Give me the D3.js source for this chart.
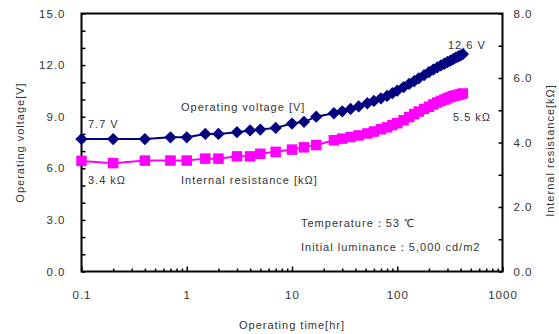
<!DOCTYPE html>
<html>
<head>
<meta charset="utf-8">
<script src="https://cdn.jsdelivr.net/npm/d3@7"></script>
<style>
  html, body { margin: 0; padding: 0; background: #fff; }
  text { font-family: "Liberation Sans", Arial, sans-serif; fill: #333; }
</style>
</head>
<body>
<svg id="chart" width="559" height="334"></svg>
<script>
// ---- data ----
const times = [0.1, 0.2, 0.4, 0.7, 1, 1.5, 2, 3, 4, 5, 7, 10, 13, 17,
  25, 30, 36, 43, 52, 60, 70, 80, 90, 100, 115, 130, 145, 160, 180, 200,
  220, 240, 260, 280, 300, 320, 340, 360, 380, 400, 420];
const voltage = [7.7, 7.7, 7.7, 7.8, 7.8, 8.0, 8.0, 8.1, 8.2, 8.25, 8.35, 8.6, 8.7, 9.0,
  9.2, 9.31, 9.45, 9.6, 9.78, 9.92, 10.07, 10.21, 10.37, 10.52, 10.72, 10.91, 11.07, 11.23, 11.42, 11.59,
  11.74, 11.87, 11.98, 12.08, 12.18, 12.26, 12.35, 12.43, 12.5, 12.57, 12.64];
const resistance = [3.43, 3.36, 3.44, 3.44, 3.44, 3.5, 3.5, 3.57, 3.57, 3.65, 3.71, 3.78, 3.85, 3.92,
  4.07, 4.12, 4.17, 4.22, 4.28, 4.34, 4.41, 4.47, 4.54, 4.6, 4.69, 4.79, 4.88, 4.96, 5.04, 5.11,
  5.18, 5.24, 5.29, 5.33, 5.37, 5.41, 5.44, 5.46, 5.48, 5.5, 5.52];
const xMajorTicks = [0.1, 1, 10, 100, 1000];
const xTickLabels = ["0.1", "1", "10", "100", "1000"];
const yLeftTicks = [0, 3, 6, 9, 12, 15];
const yRightTicks = [0, 2, 4, 6, 8];
const xTitle = "Operating time[hr]";
const yLeftTitle = "Operating voltage[V]";
const yRightTitle = "Internal resistance[kΩ]";

// ---- layout ----
const L = 81.5, R = 502.5, T = 13.5, B = 271.5;
const svg = d3.select("#chart");
const x = d3.scaleLog().domain([0.1, 1000]).range([L, R]);
const yL = d3.scaleLinear().domain([0, 15]).range([B, T]);
const yR = d3.scaleLinear().domain([0, 8]).range([B, T]);

const fs = "11px", ls = "1px";

// left axis
const gl = svg.append("g").attr("transform", `translate(${L},0)`)
  .call(d3.axisLeft(yL).tickValues(d3.range(0, 16, 1)).tickSize(-4).tickPadding(16)
    .tickFormat(d => yLeftTicks.includes(d) ? d3.format(".1f")(d) : ""));
// right axis
const gr = svg.append("g").attr("transform", `translate(${R},0)`)
  .call(d3.axisRight(yR).tickValues(d3.range(0, 9, 1)).tickSize(-4).tickPadding(11)
    .tickFormat(d => yRightTicks.includes(d) ? d3.format(".1f")(d) : ""));
// bottom axis minor ticks
const minor = [];
for (let e = -1; e < 3; e++) for (let m = 2; m <= 9; m++) minor.push(m * Math.pow(10, e));
svg.append("g").attr("transform", `translate(0,${B})`)
  .call(d3.axisBottom(x).tickValues(minor).tickSize(-3).tickFormat(""));
const gb = svg.append("g").attr("transform", `translate(0,${B})`)
  .call(d3.axisBottom(x).tickValues(xMajorTicks).tickSize(-5).tickPadding(19)
    .tickFormat((d, i) => xTickLabels[i]));

svg.selectAll(".domain").remove();
svg.selectAll(".tick line").attr("stroke", "#000").attr("stroke-width", 1.5);
svg.selectAll(".tick text").style("font-size", "11.5px").style("letter-spacing", ls)
  .attr("fill", "#333").attr("font-family", null);

// frame
svg.append("rect").attr("x", L).attr("y", T).attr("width", R - L).attr("height", B - T)
  .attr("fill", "none").attr("stroke", "#000").attr("stroke-width", 2);

// axis titles
svg.append("text").attr("x", (L + R) / 2).attr("y", 329).attr("text-anchor", "middle")
  .style("font-size", fs).style("letter-spacing", ls).text(xTitle);
svg.append("text").attr("transform", `translate(24,${(T + B) / 2}) rotate(-90)`)
  .attr("text-anchor", "middle").style("font-size", fs).style("letter-spacing", ls).text(yLeftTitle);
svg.append("text").attr("transform", `translate(554,${(T + B) / 2 + 8}) rotate(-90)`)
  .attr("text-anchor", "middle").style("font-size", fs).style("letter-spacing", ls).text(yRightTitle);

// series
const data = times.map((t, i) => ({ t, v: voltage[i], r: resistance[i] }));
svg.append("path").datum(data).attr("fill", "none").attr("stroke", "#FF00FF").attr("stroke-width", 2)
  .attr("d", d3.line().x(d => x(d.t)).y(d => yR(d.r)));
svg.append("path").datum(data).attr("fill", "none").attr("stroke", "#000080").attr("stroke-width", 2)
  .attr("d", d3.line().x(d => x(d.t)).y(d => yL(d.v)));

svg.selectAll(".sq").data(data).join("path").attr("class", "sq")
  .attr("transform", d => `translate(${x(d.t)},${yR(d.r)})`)
  .attr("d", d3.symbol(d3.symbolSquare, 110)).attr("fill", "#FF00FF");
svg.selectAll(".dm").data(data).join("path").attr("class", "dm")
  .attr("transform", d => `translate(${x(d.t)},${yL(d.v)}) rotate(45)`)
  .attr("d", d3.symbol(d3.symbolSquare, 76)).attr("fill", "#000080");

// annotations
const notes = [
  { x: 88, y: 128, t: "7.7 V" },
  { x: 88, y: 184, t: "3.4 kΩ" },
  { x: 181, y: 111, t: "Operating voltage [V]" },
  { x: 181, y: 184, t: "Internal resistance [kΩ]" },
  { x: 448, y: 49, t: "12.6 V" },
  { x: 453, y: 121, t: "5.5 kΩ" },
  { x: 301, y: 227, t: "Temperature：53 ℃" },
  { x: 301, y: 251, t: "Initial luminance：5,000 cd/m2" }
];
svg.selectAll(".note").data(notes).join("text").attr("class", "note")
  .attr("x", d => d.x).attr("y", d => d.y)
  .style("font-size", fs).style("letter-spacing", ls).text(d => d.t);
</script>
</body>
</html>
